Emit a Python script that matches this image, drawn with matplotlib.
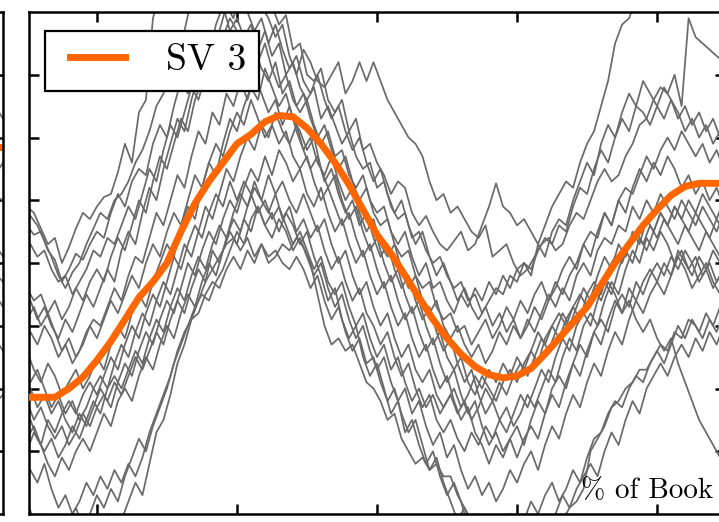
import matplotlib
matplotlib.use("Agg")
import matplotlib.pyplot as plt
from matplotlib.legend_handler import HandlerLine2D

plt.rcParams['font.family'] = ['cmr10', 'DejaVu Serif']
plt.rcParams['axes.unicode_minus'] = False

# ---------------- data ----------------
sv3_x = list(range(0, 101, 2))      # % of book
sv3 = [-2.14, -2.14, -2.14, -2.0, -1.82, -1.55, -1.25, -0.9, -0.55, -0.3,
       0.0, 0.5, 0.95, 1.3, 1.6, 1.9, 2.05, 2.25, 2.35, 2.33,
       2.15, 1.9, 1.6, 1.25, 0.85, 0.45, 0.15, -0.2, -0.55, -0.9,
       -1.2, -1.45, -1.65, -1.78, -1.83, -1.8, -1.68, -1.45, -1.2, -0.95,
       -0.7, -0.35, 0.0, 0.3, 0.6, 0.85, 1.08, 1.22, 1.27, 1.27, 1.27]

walk_x = list(range(0, 101))                   # % of book, sampled on whole percents
walk_x_mid = [v + 0.5 for v in range(0, 101)]  # % of book, sampled on half percents

walk_a = [0.9, 0.8, 0.55, 0.3, 0.4, 0.0, 0.25, 0.55, 0.8, 0.7,
          0.9, 1.05, 1.1, 1.45, 1.9, 1.6, 2.4, 2.6, 3.9, 4.3,
          4.5, 4.6, 4.4, 4.7, 4.8, 4.6, 4.9, 4.7, 4.8, 4.6,
          4.5, 4.6, 4.4, 4.3, 4.4, 4.1, 3.8, 3.95, 3.4, 3.5,
          3.0, 2.9, 3.1, 2.6, 2.4, 2.6, 2.1, 2.3, 1.8, 1.9,
          1.6, 1.4, 1.1, 1.3, 1.2, 0.8, 0.6, 0.75, 0.5, 0.3,
          0.2, 0.35, 0.5, 0.2, 0.3, 0.6, 0.9, 1.27, 0.9, 0.8,
          0.6, 0.7, 0.5, 0.3, 0.6, 0.9, 1.1, 1.3, 1.2, 1.6,
          1.9, 2.1, 2.5, 2.9, 3.5, 3.8, 3.9, 4.2, 4.5, 4.6,
          4.7, 4.6, 4.8, 4.7, 4.8, 4.9, 4.8, 4.7, 4.8, 4.8,
          4.8]
walk_b = [0.75, 0.6, 0.35, 0.1, -0.2, -0.4, -0.15, 0.0, 0.3, 0.55,
          0.8, 0.7, 1.0, 1.1, 1.3, 1.6, 1.8, 2.1, 2.5, 2.7,
          3.1, 3.5, 3.7, 4.2, 4.4, 4.2, 4.5, 4.6, 4.3, 4.4,
          4.2, 4.5, 4.3, 4.1, 3.9, 3.6, 3.8, 3.3, 3.0, 3.4,
          3.2, 2.9, 2.8, 3.0, 3.2, 2.7, 2.9, 3.2, 2.9, 3.2,
          2.9, 2.6, 2.4, 2.2, 2.0, 1.9, 1.7, 1.3, 1.0, 1.1,
          0.8, 0.9, 0.7, 0.5, 0.4, 0.6, 0.1, 0.2, 0.3, 0.0,
          -0.2, -0.1, 0.1, 0.3, 0.4, 0.2, 0.3, 0.6, 0.8, 0.7,
          1.0, 1.3, 1.5, 1.3, 1.4, 1.7, 1.9, 2.2, 2.3, 2.6,
          2.8, 2.7, 3.0, 2.5, 3.9, 3.6, 3.5, 3.4, 3.3, 3.2,
          3.1]
walk_c = [0.6, 0.45, 0.5, 0.2, 0.05, -0.3, -0.1, 0.15, 0.05, 0.3,
          0.5, 0.4, 0.8, 1.1, 0.9, 1.3, 1.5, 1.4, 1.9, 2.2,
          2.0, 2.5, 2.9, 2.7, 3.2, 3.5, 3.3, 3.8, 4.1, 3.7,
          3.9, 3.6, 3.8, 3.4, 3.7, 3.3, 3.5, 3.0, 3.2, 2.8,
          2.6, 2.8, 2.3, 2.5, 2.2, 1.9, 2.1, 1.7, 1.5, 1.6,
          1.2, 1.3, 0.9, 0.7, 0.8, 0.4, 0.5, 0.2, 0.0, 0.1,
          -0.2, -0.4, -0.3, -0.6, -0.5, -0.8, -0.6, -0.4, -0.5, -0.2,
          -0.3, 0.0, -0.1, 0.2, 0.4, 0.3, 0.6, 0.5, 0.9, 1.2,
          1.1, 1.5, 1.8, 1.6, 2.0, 2.3, 2.1, 2.5, 2.4, 2.2,
          2.5, 2.3, 2.6, 2.4, 2.1, 2.3, 2.0, 2.2, 1.9, 2.1,
          2.0]
walk_d = [0.3, 0.1, 0.2, -0.1, -0.3, -0.2, -0.5, -0.3, -0.1, 0.2,
          0.1, 0.4, 0.3, 0.6, 0.9, 0.7, 1.1, 1.5, 1.3, 1.8,
          2.2, 2.0, 2.4, 2.8, 2.6, 3.0, 2.8, 3.3, 3.1, 3.5,
          3.2, 3.0, 3.4, 3.1, 2.9, 3.2, 2.7, 2.9, 2.5, 2.7,
          2.3, 2.0, 2.2, 1.8, 1.5, 1.7, 1.3, 1.0, 1.2, 0.8,
          0.6, 0.7, 0.3, 0.1, 0.2, -0.2, -0.4, -0.3, -0.7, -0.9,
          -0.8, -1.1, -1.0, -1.3, -1.1, -0.9, -1.2, -1.0, -0.7, -0.9,
          -0.6, -0.8, -0.5, -0.3, -0.6, -0.4, -0.1, 0.1, -0.1, 0.3,
          0.5, 0.4, 0.8, 0.6, 1.0, 1.2, 1.1, 1.4, 1.7, 1.5,
          1.8, 2.0, 1.8, 2.1, 1.9, 1.7, 1.9, 1.6, 1.8, 1.5,
          1.6]
walk_e = [-0.4, -0.6, -0.5, -0.8, -0.6, -0.9, -0.7, -0.4, -0.6, -0.3,
          -0.1, -0.3, 0.1, 0.4, 0.2, 0.6, 1.0, 0.8, 1.3, 1.7,
          1.5, 1.9, 2.3, 2.1, 2.6, 2.9, 3.3, 3.1, 3.6, 3.9,
          3.7, 3.4, 3.6, 3.2, 3.5, 3.1, 2.8, 3.0, 2.6, 2.4,
          2.6, 2.2, 1.9, 2.1, 1.7, 1.8, 1.4, 1.2, 1.4, 1.0,
          0.8, 0.9, 0.5, 0.3, 0.5, 0.1, -0.2, 0.0, -0.4, -0.3,
          -0.6, -0.8, -0.5, -0.7, -0.4, -0.6, -0.3, -0.5, -0.2, -0.4,
          -0.1, 0.0, -0.2, 0.3, 0.1, 0.5, 0.7, 0.6, 1.0, 1.3,
          1.6, 1.4, 1.9, 2.2, 2.0, 2.4, 2.7, 2.5, 2.9, 2.7,
          2.5, 2.8, 2.6, 2.3, 2.5, 2.2, 2.4, 2.1, 2.3, 2.0,
          2.2]
walk_f = [-1.1, -1.3, -1.0, -1.2, -1.5, -1.3, -1.6, -1.4, -1.1, -0.9,
          -1.0, -0.7, -0.4, -0.6, -0.2, 0.1, 0.0, 0.4, 0.8, 0.6,
          1.0, 1.4, 1.2, 1.7, 2.1, 1.9, 2.4, 2.2, 2.7, 2.5,
          2.9, 2.6, 3.0, 2.7, 2.4, 2.6, 2.2, 2.5, 2.1, 1.8,
          2.0, 1.6, 1.4, 1.7, 1.3, 1.0, 1.2, 0.8, 0.5, 0.7,
          0.3, 0.1, 0.3, -0.1, -0.4, -0.2, -0.6, -0.8, -0.6, -1.0,
          -1.2, -1.0, -1.3, -1.5, -1.3, -1.6, -1.4, -1.1, -1.3, -1.0,
          -1.2, -0.9, -1.1, -0.8, -0.5, -0.7, -0.4, -0.6, -0.2, 0.0,
          -0.2, 0.2, 0.4, 0.3, 0.6, 0.5, 0.9, 0.7, 1.0, 0.8,
          1.1, 0.9, 0.7, 1.0, 0.8, 0.6, 0.9, 0.7, 0.5, 0.8,
          0.6]
walk_g = [-1.4, -1.7, -1.9, -1.6, -1.8, -2.1, -1.9, -1.7, -2.0, -1.8,
          -1.5, -1.7, -1.3, -1.0, -1.2, -0.8, -0.5, -0.7, -0.3, 0.0,
          0.3, 0.1, 0.6, 0.9, 0.7, 1.2, 1.6, 1.4, 1.9, 2.3,
          2.1, 2.5, 2.8, 2.6, 3.1, 2.8, 2.5, 2.7, 2.3, 2.1,
          1.8, 2.0, 1.5, 1.2, 1.4, 1.0, 0.7, 0.9, 0.5, 0.2,
          0.4, 0.0, -0.3, -0.1, -0.5, -0.8, -0.6, -1.0, -1.3, -1.1,
          -1.5, -1.7, -1.5, -1.9, -2.1, -1.8, -2.0, -2.2, -1.9, -1.7,
          -1.9, -1.6, -1.4, -1.6, -1.2, -1.0, -1.2, -0.9, -0.7, -0.9,
          -0.5, -0.3, -0.5, -0.1, 0.1, 0.0, 0.3, 0.5, 0.3, 0.6,
          0.4, 0.7, 0.5, 0.3, 0.6, 0.4, 0.2, 0.5, 0.3, 0.1,
          0.3]
walk_h = [-1.9, -1.7, -2.0, -2.3, -2.1, -2.4, -2.2, -2.5, -2.3, -2.0,
          -1.8, -2.0, -1.6, -1.3, -1.5, -1.1, -0.8, -1.0, -0.6, -0.3,
          -0.5, -0.1, 0.3, 0.1, 0.5, 0.9, 0.7, 1.1, 1.5, 1.3,
          1.7, 2.0, 1.8, 2.2, 2.0, 2.4, 2.1, 1.9, 2.2, 1.8,
          1.5, 1.7, 1.3, 1.5, 1.1, 0.8, 1.0, 0.6, 0.8, 0.4,
          0.1, 0.3, -0.1, -0.4, -0.2, -0.6, -0.9, -0.7, -1.1, -1.4,
          -1.2, -1.6, -1.9, -1.7, -2.1, -2.4, -2.2, -2.5, -2.3, -2.6,
          -2.4, -2.1, -2.3, -2.0, -1.7, -1.9, -1.5, -1.2, -1.4, -1.0,
          -0.8, -1.0, -0.6, -0.3, -0.5, -0.1, 0.2, 0.0, 0.4, 0.2,
          0.5, 0.3, 0.0, 0.2, -0.1, 0.1, -0.2, 0.0, -0.3, -0.1,
          -0.2]
walk_i = [-2.2, -2.5, -2.3, -2.6, -2.8, -2.6, -2.9, -2.7, -2.4, -2.6,
          -2.3, -2.1, -2.3, -1.9, -1.6, -1.8, -1.4, -1.1, -1.3, -0.9,
          -0.6, -0.8, -0.4, 0.0, -0.2, 0.2, 0.5, 0.3, 0.7, 1.0,
          0.8, 1.2, 1.5, 1.3, 1.7, 1.4, 1.8, 1.6, 1.3, 1.5,
          1.1, 0.9, 1.2, 0.8, 0.5, 0.7, 0.3, 0.0, 0.2, -0.2,
          -0.5, -0.3, -0.7, -1.0, -0.8, -1.2, -1.5, -1.3, -1.7, -2.0,
          -1.8, -2.2, -2.5, -2.3, -2.7, -2.9, -3.2, -2.9, -3.1, -2.8,
          -2.6, -2.9, -2.5, -2.2, -2.4, -2.0, -1.8, -2.0, -1.6, -1.3,
          -1.5, -1.1, -0.9, -1.1, -0.7, -0.5, -0.7, -0.3, -0.5, -0.2,
          0.0, -0.2, 0.1, -0.1, 0.2, 0.0, -0.3, -0.1, -0.4, -0.2,
          -0.3]
walk_j = [-2.5, -2.8, -3.0, -2.8, -3.1, -2.9, -2.6, -2.8, -2.5, -2.2,
          -2.4, -2.0, -1.8, -2.0, -1.7, -1.4, -1.6, -1.2, -0.9, -1.1,
          -0.7, -0.4, -0.6, -0.2, 0.1, -0.1, 0.3, 0.6, 0.4, 0.8,
          1.1, 0.9, 1.3, 1.0, 0.8, 1.1, 0.7, 0.9, 0.5, 0.7,
          0.4, 0.6, 0.2, -0.1, 0.1, -0.3, -0.6, -0.4, -0.8, -1.0,
          -1.3, -1.1, -1.5, -1.8, -1.6, -2.0, -2.3, -2.1, -2.5, -2.7,
          -2.5, -2.8, -3.0, -2.7, -2.9, -2.6, -2.8, -2.5, -2.7, -2.4,
          -2.1, -2.3, -2.0, -1.7, -1.9, -1.5, -1.2, -1.4, -1.0, -0.8,
          -1.0, -0.6, -0.3, -0.5, -0.1, 0.2, 0.0, 0.4, 0.2, 0.5,
          0.8, 0.6, 0.9, 0.7, 1.0, 0.8, 1.1, 0.9, 0.7, 1.0,
          0.8]
walk_k = [-2.8, -2.6, -2.9, -3.2, -3.4, -3.1, -3.3, -3.0, -2.8, -3.0,
          -2.7, -2.4, -2.6, -2.2, -2.0, -2.2, -1.8, -1.5, -1.7, -1.3,
          -1.0, -1.2, -0.8, -0.5, -0.7, -0.3, 0.0, -0.2, 0.2, 0.5,
          0.3, 0.7, 0.5, 0.9, 0.6, 0.4, 0.7, 0.5, 0.2, 0.4,
          0.1, -0.2, 0.0, -0.4, -0.7, -0.5, -0.9, -1.2, -1.0, -1.4,
          -1.7, -1.5, -1.9, -2.2, -2.0, -2.4, -2.2, -2.6, -2.9, -2.7,
          -3.1, -2.9, -3.3, -3.6, -3.4, -3.7, -3.5, -3.8, -3.6, -3.3,
          -3.5, -3.2, -3.0, -3.3, -2.9, -2.6, -2.8, -2.4, -2.1, -2.3,
          -1.9, -1.6, -1.8, -1.4, -1.1, -1.3, -0.9, -0.6, -0.8, -0.5,
          -0.3, -0.5, -0.2, 0.1, -0.1, -0.4, -0.2, 0.0, -0.3, -0.5,
          -0.4]
walk_l = [-3.3, -3.5, -3.2, -3.6, -3.9, -3.7, -4.0, -3.8, -3.5, -3.7,
          -3.4, -3.6, -3.3, -3.5, -3.2, -3.4, -3.1, -2.7, -2.4, -2.1,
          -1.8, -1.4, -1.1, -0.9, -0.6, -0.3, -0.1, 0.1, 0.3, 0.4,
          0.2, 0.4, 0.1, 0.3, 0.0, 0.1, 0.3, 0.2, 0.4, 0.25,
          0.0, -0.5, -1.0, -1.3, -1.2, -1.4, -1.3, -1.6, -1.9, -2.0,
          -2.2, -2.5, -2.4, -2.8, -3.0, -3.2, -3.1, -3.3, -3.2, -3.4,
          -3.4, -3.7, -3.9, -4.1, -4.3, -4.2, -4.5, -4.4, -4.6, -4.5,
          -4.4, -4.6, -4.3, -4.5, -4.2, -4.4, -4.1, -3.9, -3.8, -3.6,
          -3.0, -2.8, -2.6, -2.3, -2.2, -2.0, -1.9, -1.7, -1.7, -1.5,
          -1.3, -1.4, -1.1, -1.2, -0.9, -1.0, -1.2, -0.9, -1.1, -0.8,
          -1.0]
walk_m = [-3.8, -4.1, -4.3, -4.0, -4.2, -4.4, -4.1, -3.9, -4.2, -4.0,
          -3.7, -3.9, -3.6, -3.8, -3.4, -3.1, -2.8, -3.0, -2.6, -2.3,
          -2.0, -1.6, -1.3, -1.0, -0.7, -0.5, -0.6, -0.3, -0.1, 0.2,
          0.5, 0.3, 0.7, 0.9, 0.6, 0.8, 0.5, 0.8, 0.6, 0.3,
          0.5, 0.1, -0.2, -0.6, -0.4, -0.9, -1.2, -1.0, -1.5, -1.8,
          -1.6, -2.0, -2.4, -2.2, -2.7, -2.5, -2.9, -3.2, -3.0, -3.4,
          -3.7, -3.5, -3.8, -4.2, -4.0, -4.3, -4.1, -4.4, -4.2, -4.0,
          -4.3, -4.1, -3.8, -4.0, -3.7, -3.5, -3.8, -3.6, -3.3, -3.5,
          -3.1, -2.8, -2.7, -2.4, -2.2, -2.3, -2.0, -1.8, -1.9, -1.6,
          -1.4, -1.6, -1.3, -1.0, -1.2, -0.9, -1.1, -0.8, -1.0, -0.7,
          -0.9]
walk_n = [-4.2, -4.5, -4.3, -4.6, -4.4, -4.2, -4.5, -4.3, -4.1, -4.4,
          -4.2, -4.0, -4.3, -4.1, -3.8, -3.5, -3.7, -3.2, -2.7, -2.5,
          -2.1, -1.6, -1.3, -0.9, -0.8, -0.5, -0.3, -0.4, -0.1, 0.1,
          -0.1, 0.2, 0.0, 0.3, 0.1, 0.2, 0.0, -0.1, 0.1, -0.1,
          -0.4, -0.2, -0.6, -0.9, -0.7, -1.1, -1.4, -1.2, -1.6, -1.5,
          -1.9, -2.2, -2.0, -2.4, -2.7, -2.5, -2.9, -3.3, -3.1, -3.5,
          -3.8, -4.1, -3.9, -4.2, -4.5, -4.3, -4.6, -4.4, -4.7, -4.5,
          -4.3, -4.6, -4.4, -4.1, -4.3, -4.0, -3.7, -3.9, -3.6, -3.4,
          -3.2, -3.4, -3.0, -2.7, -2.9, -2.5, -2.2, -2.4, -2.0, -1.8,
          -1.6, -1.8, -1.5, -1.3, -1.5, -1.2, -1.4, -1.1, -1.3, -1.0,
          -1.2]
walk_o = [-3.0, -2.7, -2.9, -2.5, -2.7, -2.4, -2.2, -2.4, -2.1, -1.9,
          -2.1, -1.8, -1.5, -1.7, -1.3, -1.0, -1.2, -0.8, -0.5, -0.7,
          -0.3, 0.1, -0.1, 0.3, 0.6, 0.4, 0.8, 1.1, 0.9, 1.3,
          1.0, 1.3, 1.1, 0.8, 1.0, 0.7, 0.9, 0.6, 0.3, 0.5,
          0.2, -0.1, 0.1, -0.3, -0.5, -0.3, -0.7, -1.0, -0.8, -1.2,
          -1.5, -1.3, -1.7, -1.5, -1.9, -2.2, -2.0, -2.3, -2.1, -2.4,
          -2.2, -2.0, -2.3, -2.1, -1.8, -2.0, -1.7, -1.9, -1.6, -1.8,
          -1.5, -1.7, -1.4, -1.1, -1.3, -1.0, -0.8, -1.0, -0.7, -0.5,
          -0.7, -0.4, -0.6, -0.3, -0.5, -0.8, -0.6, -0.9, -1.1, -0.9,
          -1.2, -1.4, -1.2, -1.6, -1.9, -2.2, -2.5, -2.7, -2.9, -3.1,
          -3.2]
walk_p = [-0.6, -0.9, -0.7, -1.0, -1.2, -0.9, -1.1, -0.8, -0.5, -0.7,
          -0.4, -0.1, -0.3, 0.2, 0.5, 0.3, 0.8, 1.2, 1.0, 1.5,
          1.9, 2.3, 2.1, 2.6, 3.0, 3.4, 3.2, 3.7, 4.1, 3.9,
          4.3, 4.0, 3.7, 3.9, 3.5, 3.8, 3.4, 3.1, 3.3, 2.9,
          2.7, 3.0, 2.6, 2.3, 2.5, 2.1, 1.8, 2.0, 1.6, 1.3,
          1.5, 1.1, 0.8, 1.0, 0.6, 0.3, 0.5, 0.1, -0.2, 0.0,
          -0.3, -0.6, -0.4, -0.7, -0.9, -0.7, -1.0, -0.8, -1.1, -0.9,
          -1.2, -1.0, -0.7, -0.9, -0.6, -0.3, -0.5, -0.2, 0.0, 0.3,
          0.1, 0.5, 0.8, 0.6, 1.0, 0.8, 1.2, 1.5, 1.3, 1.6,
          1.4, 1.7, 1.5, 1.2, 1.4, 1.1, 1.3, 1.0, 1.2, 0.9,
          1.1]
walk_q = [-0.9, -0.7, -1.0, -0.8, -1.1, -1.4, -1.2, -1.5, -1.3, -1.0,
          -1.2, -0.9, -0.6, -0.8, -0.5, -0.2, -0.4, 0.0, 0.3, 0.1,
          0.5, 0.8, 0.6, 1.0, 1.4, 1.2, 1.6, 1.9, 1.7, 2.1,
          2.4, 2.2, 2.6, 2.3, 2.0, 2.2, 1.9, 2.1, 1.7, 1.5,
          1.7, 1.3, 1.0, 1.2, 0.9, 0.6, 0.8, 0.4, 0.1, 0.3,
          -0.1, -0.4, -0.2, -0.6, -0.9, -0.7, -1.1, -1.4, -1.2, -1.6,
          -1.9, -1.7, -2.1, -2.4, -2.2, -2.6, -2.9, -2.7, -3.0, -2.8,
          -3.1, -2.8, -2.6, -2.8, -2.4, -2.1, -2.3, -1.9, -1.6, -1.8,
          -1.4, -1.1, -1.3, -0.9, -0.6, -0.8, -0.4, -0.6, -0.3, -0.1,
          -0.3, 0.0, -0.2, 0.2, 0.0, -0.2, 0.1, -0.1, 0.2, 0.0,
          0.1]
walk_r = [-2.0, -2.3, -2.1, -2.4, -2.2, -2.5, -2.7, -2.4, -2.6, -2.3,
          -2.0, -2.2, -1.9, -2.1, -1.8, -1.5, -1.7, -1.4, -1.1, -1.3,
          -0.9, -0.6, -0.8, -0.4, -0.1, -0.3, 0.2, 0.0, 0.4, 0.7,
          0.5, 0.9, 1.2, 1.0, 1.4, 1.1, 1.3, 1.0, 0.8, 1.1,
          0.8, 0.5, 0.7, 0.3, 0.0, 0.2, -0.2, -0.5, -0.3, -0.7,
          -1.0, -0.8, -1.2, -1.5, -1.3, -1.7, -1.9, -1.7, -2.1, -2.3,
          -2.1, -2.4, -2.2, -2.5, -2.3, -2.0, -2.2, -1.9, -2.1, -1.8,
          -1.6, -1.8, -1.5, -1.2, -1.4, -1.1, -0.8, -1.0, -0.7, -0.4,
          -0.6, -0.2, 0.1, -0.1, 0.3, 0.1, 0.5, 0.3, 0.7, 0.5,
          0.8, 0.6, 0.9, 0.7, 0.5, 0.8, 0.6, 0.4, 0.7, 0.5,
          0.6]

walks_whole = [walk_a, walk_c, walk_e, walk_g, walk_i, walk_k, walk_m, walk_o, walk_q]
walks_mid = [walk_b, walk_d, walk_f, walk_h, walk_j, walk_l, walk_n, walk_p, walk_r]

# neighbouring panel (only its right edge is visible)
left_x = [94, 97, 100]
left_sv = [1.8, 1.85, 1.85]
left_walks = [[2.4, 2.6, 2.3], [1.5, 1.3, 1.6], [0.9, 1.1, 1.0], [0.2, 0.4, 0.1],
              [-0.2, -0.1, -0.3], [-0.6, -0.4, -0.7], [-1.3, -1.1, -1.4], [-2.0, -2.3, -2.1]]

x_ticks = [10, 30, 50, 70, 90]
y_ticks = [-3, -2, -1, 0, 1, 2, 3]

GRAY = '#696969'
ORANGE = '#ff6600'

# ---------------- figure ----------------
W, H = 719, 522
fig = plt.figure(figsize=(W / 100, H / 100), dpi=100)


def style(ax):
    ax.set_ylim(-4, 4)
    ax.set_yticks(y_ticks)
    ax.tick_params(direction='in', top=True, right=True, left=True, bottom=True,
                   length=7, width=1.8, labelbottom=False, labelleft=False)
    for s in ax.spines.values():
        s.set_linewidth(1.8)


ax0 = fig.add_axes([-400 / W, 8 / H, 403 / W, 502 / H])
for w in left_walks:
    ax0.plot(left_x, w, color=GRAY, lw=1.25)
ax0.plot(left_x, left_sv, color=ORANGE, lw=5)
ax0.set_xlim(0, 100)
ax0.set_xticks(x_ticks)
style(ax0)

ax = fig.add_axes([29 / W, 8 / H, 696 / W, 502 / H])
for w in walks_whole:
    ax.plot(walk_x, w, color=GRAY, lw=1.25, zorder=2)
for w in walks_mid:
    ax.plot(walk_x_mid, w, color=GRAY, lw=1.25, zorder=2)
sv_line, = ax.plot(sv3_x, sv3, color=ORANGE, lw=5, label='SV 3', zorder=3)
ax.set_xlim(0.3, 99.7)
ax.set_xticks(x_ticks)
style(ax)

leg = ax.legend(loc='upper left', bbox_to_anchor=(0.023, 0.962), borderaxespad=0,
                fontsize=27, frameon=True, fancybox=False, edgecolor='black',
                framealpha=1, handlelength=1.77, handletextpad=1.1, borderpad=0.35,
                handler_map={sv_line: HandlerLine2D(xpad=0.32)})
leg.get_frame().set_linewidth(1.6)
leg.set_zorder(5)

ax.text(0.983, 0.032, '% of Book', transform=ax.transAxes, ha='right',
        va='baseline', fontsize=21, zorder=6)

fig.savefig('out.png', dpi=100)
